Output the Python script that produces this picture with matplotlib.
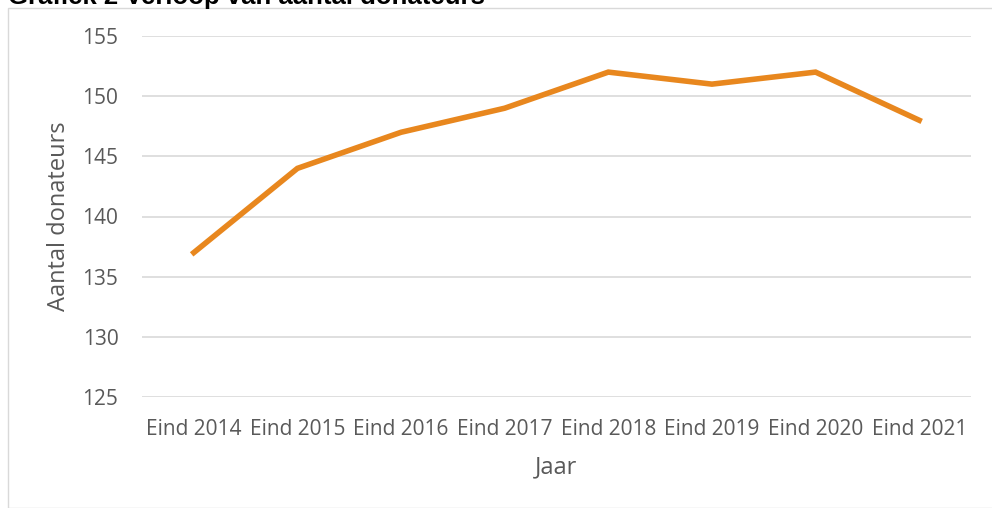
import matplotlib
matplotlib.use("Agg")
import matplotlib.pyplot as plt
from matplotlib.patches import Rectangle

categories = ["Eind 2014", "Eind 2015", "Eind 2016", "Eind 2017",
              "Eind 2018", "Eind 2019", "Eind 2020", "Eind 2021"]
donateurs = [137, 144, 147, 149, 152, 151, 152, 148]
y_ticks = [125, 130, 135, 140, 145, 150, 155]

plt.rcParams['font.family'] = ['Open Sans', 'DejaVu Sans']

W, H = 992, 508
fig = plt.figure(figsize=(W / 100, H / 100), dpi=100)

# chart border
fig.patches.append(Rectangle((8 / W, 0), 1.0, 1 - 8 / H, transform=fig.transFigure,
                             fill=False, edgecolor="#D9D9D9", linewidth=1.0))

ax = fig.add_axes([142 / W, 1 - 397 / H, (971 - 142) / W, (397 - 36) / H])
x = list(range(len(categories)))
ax.plot(x, donateurs, color="#E8871E", linewidth=4, solid_joinstyle="miter", zorder=3)
ax.set_xlim(-0.5, len(categories) - 0.5)
ax.set_ylim(125, 155)
ax.set_yticks(y_ticks)
ax.set_xticks(x)
ax.set_xticklabels(categories)
ax.grid(axis="y", color="#D9D9D9", linewidth=1.2)
ax.set_axisbelow(True)
for s in ax.spines.values():
    s.set_visible(False)
ax.tick_params(axis="both", length=0, labelsize=15, labelcolor="#595959")
ax.tick_params(axis="x", pad=16)
ax.tick_params(axis="y", pad=17)
ax.set_xlabel("Jaar", fontsize=17, color="#595959", labelpad=11)
ax.set_ylabel("Aantal donateurs", fontsize=17, color="#595959", labelpad=8)

fig.text(8 / W, 1 - 4 / H, "Grafiek 2 Verloop van aantal donateurs", fontsize=18.5,
         fontweight="bold", family=["Liberation Sans", "DejaVu Sans"], va="baseline", ha="left")

fig.savefig("out.png", dpi=100)
